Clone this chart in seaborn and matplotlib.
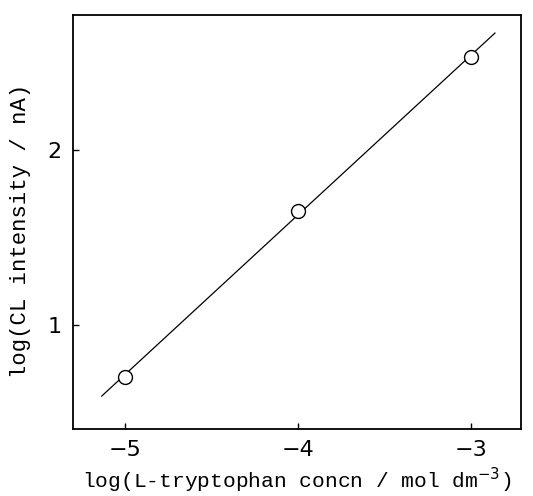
import matplotlib
matplotlib.use("Agg")
import matplotlib.pyplot as plt
import numpy as np
import seaborn as sns
import pandas as pd

# data
log_conc = [-5, -4, -3]
log_cl = [0.705, 1.653, 2.53]
fit_range = [-5.135, -2.861]

sns.set_style("ticks")
plt.rcParams["font.family"] = ["DejaVu Sans"]
plt.rcParams["mathtext.fontset"] = "dejavusans"
plt.rcParams["text.color"] = "black"
plt.rcParams["axes.labelcolor"] = "black"
plt.rcParams["xtick.color"] = "black"
plt.rcParams["ytick.color"] = "black"

df = pd.DataFrame({"x": log_conc, "y": log_cl})

# least-squares calibration line
slope, intercept = np.polyfit(log_conc, log_cl, 1)
fit = pd.DataFrame({"x": fit_range})
fit["y"] = slope * fit["x"] + intercept

fig = plt.figure(figsize=(5.33, 4.96), dpi=100)
ax = fig.add_axes([0.1364, 0.135, 0.8405, 0.8347])

sns.lineplot(data=fit, x="x", y="y", ax=ax, color="black", linewidth=0.9)
ax.plot(df["x"], df["y"], linestyle="none", marker="o", markersize=10,
        markerfacecolor="white", markeredgecolor="black", markeredgewidth=1.0)

ax.set_xlim(-5.302, -2.713)
ax.set_ylim(0.406, 2.771)
ax.set_xticks([-5, -4, -3])
ax.set_xticklabels(["\u22125", "\u22124", "\u22123"])
ax.set_yticks([1, 2])
ax.tick_params(direction="in", length=4, width=1.0, labelsize=16, pad=8,
               top=False, right=False)

for s in ax.spines.values():
    s.set_visible(True)
    s.set_linewidth(1.3)
    s.set_color("black")

mono = "Liberation Mono"
ax.set_xlabel(r"log(L-tryptophan concn / mol dm$^{-3}$)", family=mono,
              fontsize=15.3, labelpad=4)
ax.set_ylabel("log(CL intensity / nA)", family=mono, fontsize=16)
ax.yaxis.set_label_coords(-0.092, 0.478)

fig.savefig("out.png", dpi=100)
